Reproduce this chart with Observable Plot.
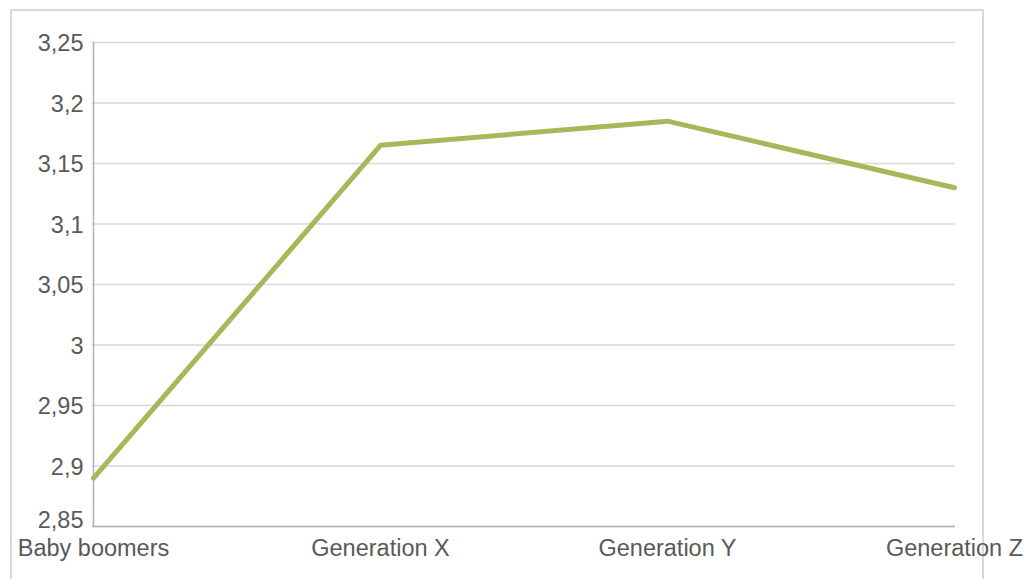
<!DOCTYPE html>
<html>
<head>
<meta charset="utf-8">
<script src="https://cdn.jsdelivr.net/npm/d3@7"></script>
<script src="https://cdn.jsdelivr.net/npm/@observablehq/plot@0.6"></script>
<style>
  html, body { margin: 0; padding: 0; background: #fff; overflow: hidden; }
  #wrap { position: relative; width: 1026px; height: 579px; }
  #border { position: absolute; left: 10px; top: 9px; width: 974px; height: 620px; border: 2px solid #d9d9d9; box-sizing: border-box; }
  #chart { position: absolute; left: 0; top: 0; }
</style>
</head>
<body>
<div id="wrap"><div id="border"></div><div id="chart"></div></div>
<script>
const generations = ["Baby boomers", "Generation X", "Generation Y", "Generation Z"];
const scores = [2.89, 3.165, 3.185, 3.13];
const yTicks = [2.85, 2.9, 2.95, 3, 3.05, 3.1, 3.15, 3.2, 3.25];

const data = generations.map((g, i) => ({generation: g, score: scores[i]}));
// decimal comma, as in the source locale
const fmt = v => String(+v.toFixed(2)).replace(".", ",");
const axisStyle = {tickSize: 0, tickPadding: 9, tickFormat: fmt, fill: "#595959", fontSize: 23.5};

const chart = Plot.plot({
  width: 1026,
  height: 579,
  marginLeft: 92,
  marginRight: 71,
  marginTop: 42,
  marginBottom: 53,
  style: {fontFamily: "'Liberation Sans', Arial, sans-serif", fontSize: "23.5px", color: "#595959", background: "transparent"},
  x: {type: "point", domain: generations, padding: 0, label: null},
  y: {domain: [2.85, 3.25], label: null},
  marks: [
    Plot.gridY(yTicks, {stroke: "#d9d9d9", strokeOpacity: 1, strokeWidth: 1.5}),
    Plot.ruleX([generations[0]], {stroke: "#b3b3b3", strokeWidth: 1.5}),
    Plot.ruleY([2.85], {stroke: "#b3b3b3", strokeWidth: 1.5}),
    // lowest tick label sits a little higher, clear of the category labels
    Plot.axisY(yTicks.slice(1), {...axisStyle, dy: 1}),
    Plot.axisY(yTicks.slice(0, 1), {...axisStyle, dy: -6}),
    Plot.axisX({tickSize: 0, tickPadding: 13, fill: "#595959", fontSize: 23.5}),
    Plot.line(data, {x: "generation", y: "score", stroke: "#a7b75a", strokeWidth: 5, strokeLinejoin: "miter"})
  ]
});
document.getElementById("chart").appendChild(chart);
</script>
</body>
</html>
